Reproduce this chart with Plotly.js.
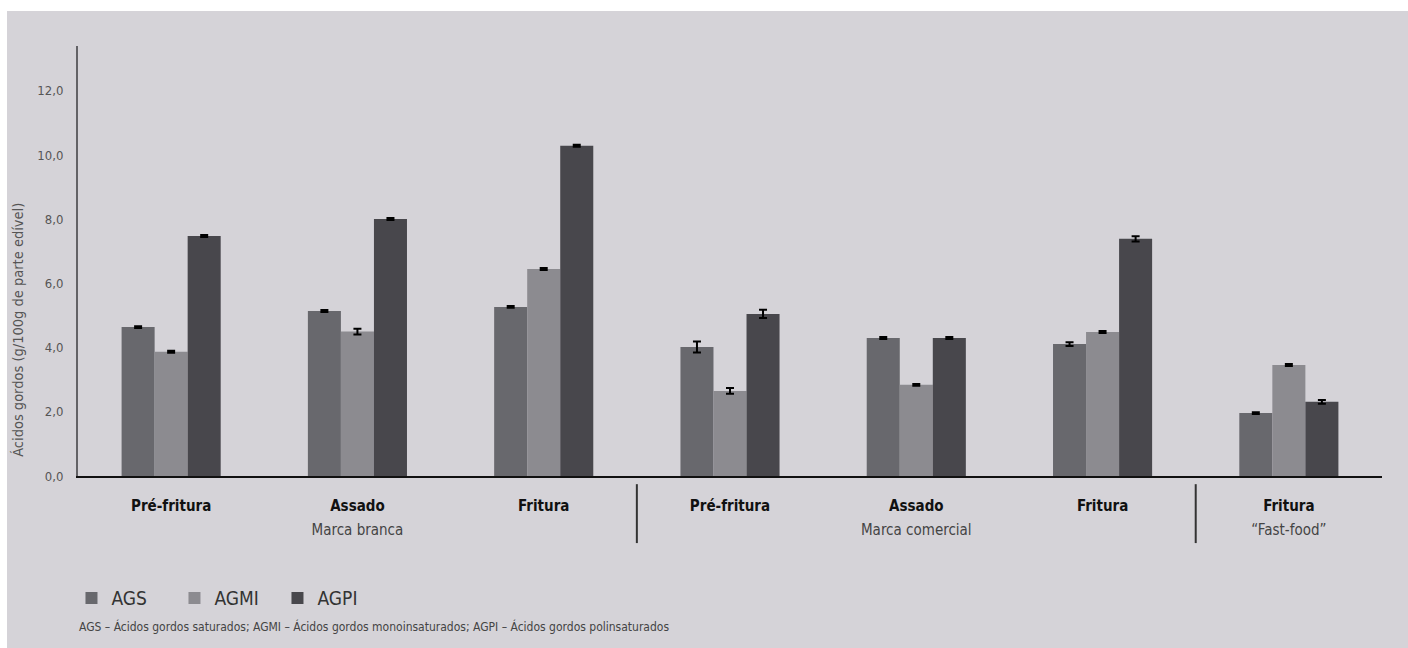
<!DOCTYPE html>
<html>
<head>
<meta charset="utf-8">
<script src="https://cdn.plot.ly/plotly-3.0.1.min.js"></script>
<style>
html,body{margin:0;padding:0;background:#ffffff;}
#chart{position:absolute;left:7px;top:11px;width:1401px;height:637px;}
</style>
</head>
<body>
<div id="chart"></div>
<script>
// Data
var groups = ['Marca branca','Marca branca','Marca branca','Marca comercial','Marca comercial','Marca comercial','\u201cFast-food\u201d'];
var methods = ['Pré-fritura','Assado','Fritura','Pré-fritura','Assado','Fritura','Fritura'];
var seriesNames = ['AGS','AGMI','AGPI'];
var AGS  = [4.64, 5.14, 5.27, 4.02, 4.30, 4.11, 1.96];
var AGMI = [3.87, 4.50, 6.45, 2.65, 2.84, 4.49, 3.46];
var AGPI = [7.48, 8.01, 10.29, 5.05, 4.30, 7.39, 2.31];
var errAGS  = [0.03, 0.03, 0.03, 0.17, 0.03, 0.06, 0.03];
var errAGMI = [0.03, 0.09, 0.03, 0.09, 0.03, 0.03, 0.03];
var errAGPI = [0.03, 0.03, 0.03, 0.13, 0.03, 0.08, 0.06];
var yTitle = 'Ácidos gordos (g/100g de parte edível)';
var footnote = 'AGS \u2013 Ácidos gordos saturados; AGMI \u2013 Ácidos gordos monoinsaturados; AGPI \u2013 Ácidos gordos polinsaturados';

var colors = ['#68686d', '#8c8b90', '#48474c'];
var FONT = '"Liberation Sans Narrow", "DejaVu Sans Condensed", "Roboto", sans-serif';

// outer labels get an empty first line so they sit lower, below the bold inner labels
var xcats = [
  groups.map(function(g){ return '&nbsp;<br>' + g; }),
  methods.map(function(m){ return '<b style="color:#111">' + m + '</b>'; })
];
var vals = [AGS, AGMI, AGPI];
var errs = [errAGS, errAGMI, errAGPI];

var traces = seriesNames.map(function(name, i){
  return {
    type: 'bar',
    name: name,
    x: xcats,
    y: vals[i],
    marker: {color: colors[i], line: {width: 0}},
    error_y: {type: 'data', array: errs[i], visible: true, color: '#000', thickness: 2, width: 4},
    hoverinfo: 'y+name'
  };
});

// divider positions between outer groups (boundaries after 3rd and 6th category)
var nCat = methods.length;
var dividerShapes = [3, 6].map(function(k){
  return {
    type: 'line', xref: 'paper', yref: 'paper',
    x0: k / nCat, x1: k / nCat, y0: -0.019, y1: -0.156,
    line: {color: '#333', width: 2}
  };
});

var layout = {
  width: 1401,
  height: 637,
  paper_bgcolor: '#d5d3d8',
  plot_bgcolor: '#d5d3d8',
  margin: {l: 71, r: 26, t: 35, b: 172},
  separators: ',.',
  barmode: 'group',
  bargap: 0.468,
  bargroupgap: 0,
  font: {family: FONT, color: '#444'},
  showlegend: true,
  legend: {
    orientation: 'h',
    x: -0.005, xanchor: 'left',
    y: -0.284, yanchor: 'middle',
    entrywidth: 58,
    font: {size: 19, color: '#333', family: FONT},
    bgcolor: 'rgba(0,0,0,0)',
    traceorder: 'normal'
  },
  xaxis: {
    type: 'multicategory',
    showline: true,
    linecolor: '#111',
    linewidth: 1.5,
    showgrid: false,
    ticks: '',
    showdividers: false,
    ticklabelstandoff: 15,
    tickfont: {size: 15, color: '#444', family: FONT},
    zeroline: false
  },
  yaxis: {
    range: [0, 13.4],
    tickvals: [0, 2, 4, 6, 8, 10, 12],
    tickformat: '.1f',
    showline: true,
    linecolor: '#636266',
    linewidth: 2,
    showgrid: false,
    zeroline: false,
    ticks: '',
    ticklabelstandoff: 10,
    tickfont: {size: 13, color: '#555', family: FONT}
  },
  shapes: dividerShapes,
  annotations: [
    {
      text: yTitle,
      xref: 'paper', yref: 'paper',
      x: -0.046, y: 0.34,
      xanchor: 'center', yanchor: 'middle',
      textangle: -90,
      showarrow: false,
      font: {size: 14.5, color: '#555', family: FONT}
    },
    {
      text: footnote,
      xref: 'paper', yref: 'paper',
      x: -0.001, y: -0.349,
      xanchor: 'left', yanchor: 'middle',
      showarrow: false,
      font: {size: 12, color: '#444', family: FONT}
    }
  ]
};

Plotly.newPlot('chart', traces, layout, {displayModeBar: false, responsive: false});
</script>
</body>
</html>
